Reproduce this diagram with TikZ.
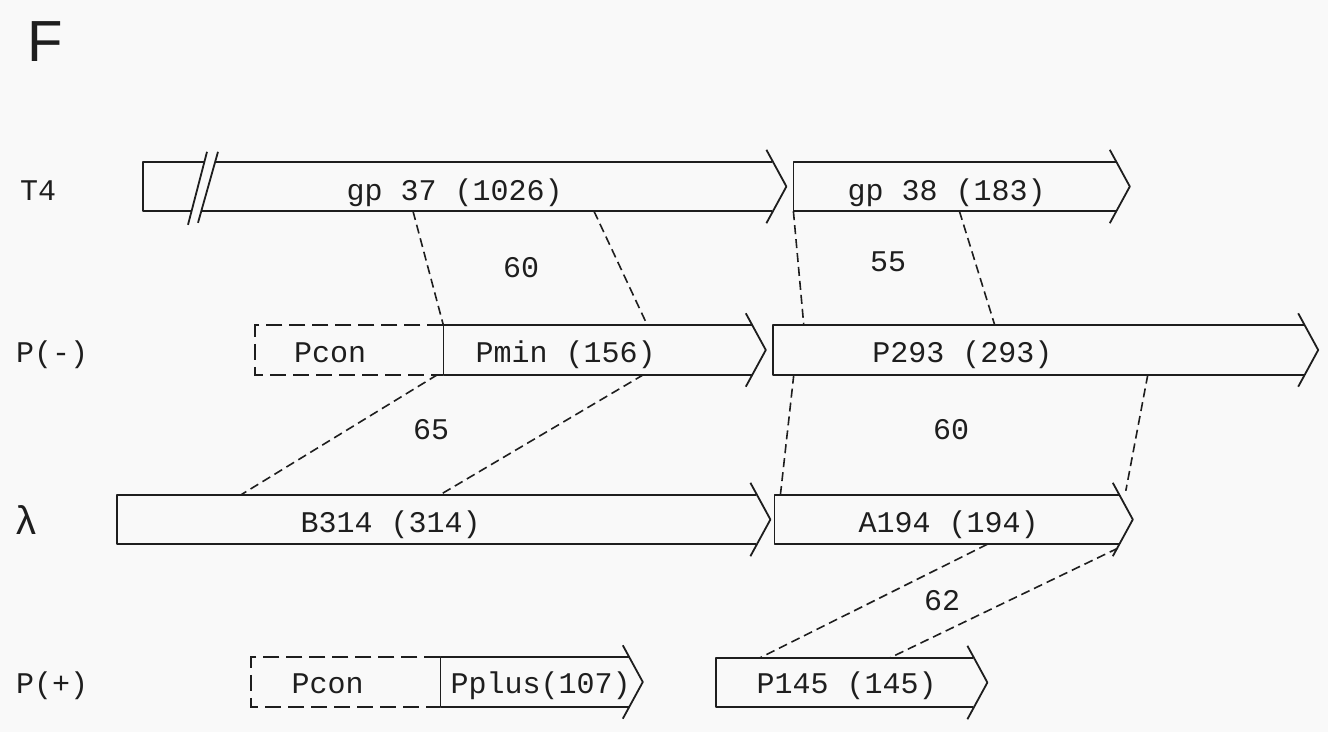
\documentclass[tikz,border=0pt]{standalone}
\usepackage{fontspec}
\newfontfamily\monofam{Liberation Mono}
\newfontfamily\sansfam{Liberation Sans}
\usetikzlibrary{positioning,calc}

\definecolor{paper}{RGB}{249,249,249}
\definecolor{ink}{RGB}{30,30,30}
\newcommand{\genefont}{\monofam\fontsize{30}{36}\selectfont}

% body (open on the right) plus the chevron head
\newcommand{\geneoutline}[1]{%
  \draw[outline] (#1.north east) -- (#1.north west) -- (#1.south west) -- (#1.south east);
  \draw[outline] ($(#1.north east)+(-6,-12)$) -- ($(#1.east)+(14,0)$) -- ($(#1.south east)+(-6,12)$);}

\begin{document}
\begin{tikzpicture}[
    x=1pt, y=-1pt,
    gene/.style={rectangle, minimum height=49pt, inner sep=0pt, anchor=west},
    gtext/.style={font=\genefont, text=ink, anchor=base, inner sep=0pt},
    rowlab/.style={font=\genefont, text=ink, anchor=base west, inner sep=0pt},
    num/.style={font=\genefont, text=ink, inner sep=0pt},
    outline/.style={draw=ink, line width=1.8pt, line join=round},
    dashbox/.style={draw=ink, line width=1.8pt, dash pattern=on 16pt off 7pt},
    link/.style={draw=ink, line width=1.6pt, dash pattern=on 9pt off 5pt},
]
\useasboundingbox[fill=paper] (0,0) rectangle (1328,732);

\node[font=\sansfam\fontsize{58}{60}\selectfont, text=ink, anchor=base west, inner sep=0pt] (fig) at (27,61) {F};

% row names
\node[rowlab] (lT4) at (20,200) {T4};
\node[rowlab] (lPm) at (16,362) {P(-)};
\node[rowlab, font=\monofam\fontsize{40}{44}\selectfont] (llam) at (14,534) {λ};
\node[rowlab] (lPp) at (16,693) {P(+)};

% gene bodies
\node[gene, minimum width=629pt] (gp37) at (143,186.5) {};
\node[gene, minimum width=322pt, right=21pt of gp37] (gp38) {};
\node[gene, minimum width=188pt] (pconA) at (255,350) {};
\node[gene, minimum width=308pt, right=0pt of pconA] (pmin) {};
\node[gene, minimum width=531pt, right=21pt of pmin] (p293) {};
\node[gene, minimum width=639pt] (b314) at (117,519.5) {};
\node[gene, minimum width=344pt, right=18pt of b314] (a194) {};
\node[gene, minimum width=189pt] (pconB) at (251,682) {};
\node[gene, minimum width=188pt, right=0pt of pconB] (pplus) {};
\node[gene, minimum width=257pt] (p145) at (716,682.5) {};

\geneoutline{gp37}
\geneoutline{gp38}
\geneoutline{pmin}
\geneoutline{p293}
\geneoutline{b314}
\geneoutline{a194}
\geneoutline{pplus}
\geneoutline{p145}
\draw[dashbox] (pconA.north east) -- (pconA.north west) -- (pconA.south west) -- (pconA.south east);
\draw[dashbox] (pconB.north east) -- (pconB.north west) -- (pconB.south west) -- (pconB.south east);

% break mark on gp 37
\fill[paper] ($(gp37.north west)+(63,-7)$) -- ($(gp37.north west)+(74,-7)$) -- ($(gp37.north west)+(56,58)$) -- ($(gp37.north west)+(46,58)$) -- cycle;
\draw[outline] ($(gp37.north west)+(64,-10)$) -- ($(gp37.north west)+(45,63)$);
\draw[outline] ($(gp37.north west)+(75,-10)$) -- ($(gp37.north west)+(55,61)$);

% gene names
\node[gtext] (t37) at ($(gp37.south)+(-3,-11)$) {gp 37 (1026)};
\node[gtext] (t38) at ($(gp38.south)+(-8,-11)$) {gp 38 (183)};
\node[gtext] (tconA) at ($(pconA.south)+(-19,-12)$) {Pcon};
\node[gtext] (tmin) at ($(pmin.south)+(-32,-12)$) {Pmin (156)};
\node[gtext] (t293) at ($(p293.south)+(-76,-12)$) {P293 (293)};
\node[gtext] (t314) at ($(b314.south)+(-46,-12)$) {B314 (314)};
\node[gtext] (t194) at ($(a194.south)+(2,-12)$) {A194 (194)};
\node[gtext] (tconB) at ($(pconB.south)+(-18,-13)$) {Pcon};
\node[gtext] (tplus) at ($(pplus.south)+(6,-13)$) {Pplus(107)};
\node[gtext] (t145) at ($(p145.south)+(2,-14)$) {P145 (145)};

% homology links
\draw[link] ($(gp37.south west)+(270,0)$) -- (pmin.north west);
\draw[link] ($(gp37.south west)+(451,0)$) -- ($(pmin.north west)+(204,0)$);
\draw[link] (gp38.south west) -- ($(p293.north west)+(31,0)$);
\draw[link] ($(gp38.south west)+(166,0)$) -- ($(p293.north west)+(222,0)$);
\draw[link] ($(pmin.south west)+(-6,0)$) -- ($(b314.north west)+(124,0)$);
\draw[link] ($(pmin.south west)+(200,0)$) -- ($(b314.north west)+(323,0)$);
\draw[link] ($(p293.south west)+(21,0)$) -- ($(a194.north west)+(6,0)$);
\draw[link] ($(p293.south west)+(375,0)$) -- ($(a194.north east)+(7,-4)$);
\draw[link] ($(a194.south west)+(213,0)$) -- ($(p145.north west)+(44,0)$);
\draw[link] ($(a194.south east)+(-1,4)$) -- ($(p145.north west)+(174,0)$);

% identities
\node[num] (s60a) at (521,268) {60};
\node[num] (s55) at (888,262) {55};
\node[num] (s65) at (431,430) {65};
\node[num] (s60b) at (951,430) {60};
\node[num] (s62) at (942,601) {62};
\end{tikzpicture}
\end{document}
